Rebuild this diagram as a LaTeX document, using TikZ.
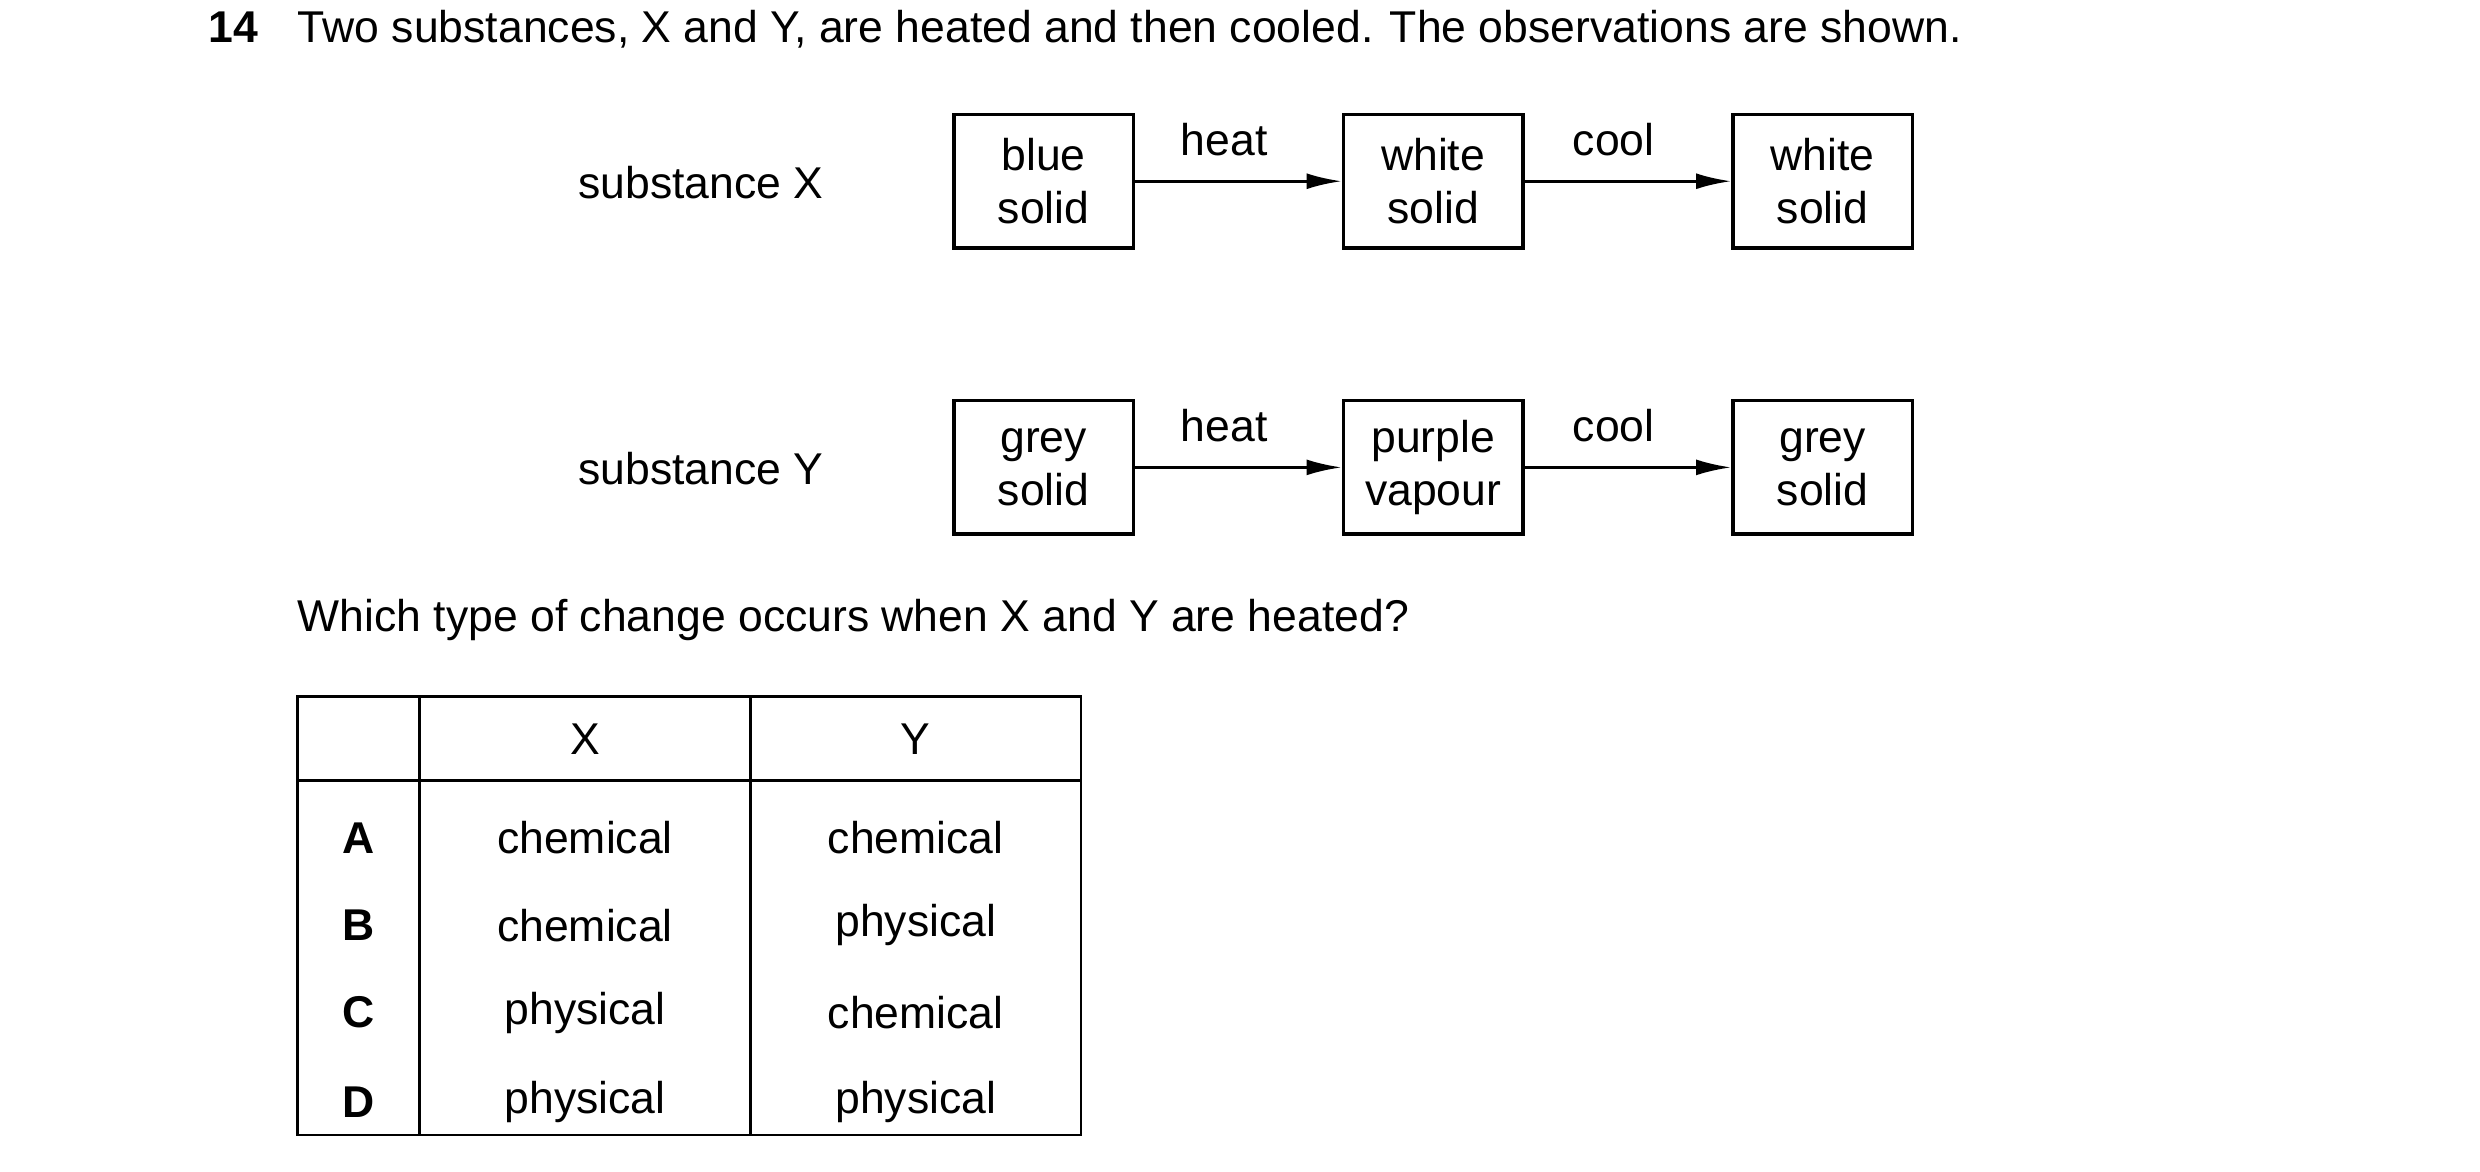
\documentclass[tikz,border=0pt]{standalone}
\usepackage{fontspec}
\setmainfont{Liberation Sans}
\usetikzlibrary{arrows.meta}
\begin{document}
\begin{tikzpicture}[x=0.5pt,y=-0.5pt,font=\fontsize{14}{16.5}\selectfont,
 box/.style={draw,line width=1.1pt,minimum width=56.5pt,minimum height=42pt,inner sep=0pt,align=center},
 arr/.style={line width=0.9pt,-{Latex[length=11pt,width=5pt]}},
 lab/.style={inner sep=0pt},
 tl/.style={line width=0.8pt}]
\useasboundingbox (0,0) rectangle (1560,737);
\node[lab,anchor=base west,font=\fontsize{14}{16.5}\selectfont\bfseries] (num) at (131,27) {14};
\node[lab,anchor=base west] (q) at (187,27) {Two substances, X and Y, are heated and then cooled. The observations are shown.};
\node[lab] (sx) at (441,115) {substance X};
\node[lab] (sy) at (441,295) {substance Y};
\node[box] (x1) at (656.5,114) {blue\\solid};
\node[box] (x2) at (901.5,114) {white\\solid};
\node[box] (x3) at (1146.5,114) {white\\solid};
\node[box] (y1) at (656.5,294) {grey\\solid};
\node[box] (y2) at (901.5,294) {purple\\vapour};
\node[box] (y3) at (1146.5,294) {grey\\solid};
\draw[arr] (x1) -- (x2); \draw[arr] (x2) -- (x3);
\draw[arr] (y1) -- (y2); \draw[arr] (y2) -- (y3);
\node[lab] (hx) at (770,88) {heat};
\node[lab] (cx) at (1015,88) {cool};
\node[lab] (hy) at (770,268) {heat};
\node[lab] (cy) at (1015,268) {cool};
\node[lab,anchor=base west] (q2) at (187,397) {Which type of change occurs when X and Y are heated?};
\draw[tl] (187,438) rectangle (680,714);
\draw[tl] (187,491) -- (680,491);
\draw[tl] (264,438) -- (264,714);
\draw[tl] (472,438) -- (472,714);
\node[lab] (hX) at (368,465) {X};
\node[lab] (hY) at (576,465) {Y};
\foreach \r/\a/\b/\y in {A/chemical/chemical/527,B/chemical/physical/582,C/physical/chemical/637,D/physical/physical/693}{
 \node[lab,font=\fontsize{14}{16.5}\selectfont\bfseries] (l\r) at (225.5,\y) {\r};
 \node[lab] (x\r) at (368,\y) {\a};
 \node[lab] (y\r) at (576,\y) {\b};
}
\end{tikzpicture}
\end{document}
